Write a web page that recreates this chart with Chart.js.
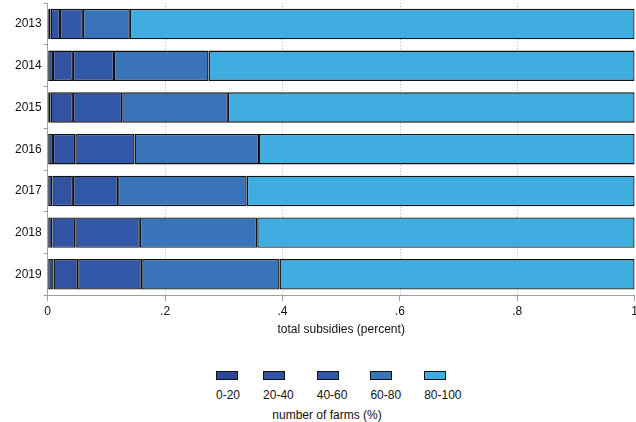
<!DOCTYPE html>
<html>
<head>
<meta charset="utf-8">
<script src="https://cdn.jsdelivr.net/npm/chart.js@4"></script>
<style>
  html, body { margin: 0; padding: 0; background: #fff; }
  body { width: 636px; height: 422px; position: relative; overflow: hidden;
         font-family: "Liberation Sans", Arial, sans-serif; color: #111; }
  #wrap { position: absolute; left: 0; top: -6px; width: 641px; height: 346px; }
  #legend { position: absolute; left: 216px; top: 371px; display: flex; }
  .item { display: flex; flex-direction: column; align-items: flex-start; margin-right: 23px; }
  .swatch { width: 20px; height: 7px; border: 1px solid #111; }
  .lbl { font-size: 12px; margin-top: 9px; line-height: 12px; }
  #legendTitle { position: absolute; left: 0; width: 654px; top: 409px; line-height: 13px; text-align: center; font-size: 12px; }
</style>
</head>
<body>
<div id="wrap"><canvas id="subsidyChart"></canvas></div>
<div id="legend"></div>
<div id="legendTitle">number of farms (%)</div>
<script>
const years = ["2013", "2014", "2015", "2016", "2017", "2018", "2019"];
const groupLabels = ["0-20", "20-40", "40-60", "60-80", "80-100"];
const groupColors = ["#2b4796", "#3153a2", "#3358a7", "#3a74b8", "#40ade0"];

// share of total subsidies received by each farm group
const share0_20 = [0.005, 0.009, 0.005, 0.009, 0.008, 0.008, 0.010];
const share20_40 = [0.016, 0.034, 0.038, 0.038, 0.035, 0.039, 0.042];
const share40_60 = [0.039, 0.070, 0.084, 0.101, 0.077, 0.110, 0.109];
const share60_80 = [0.080, 0.161, 0.180, 0.212, 0.219, 0.200, 0.234];
const share80_100 = [0.860, 0.726, 0.693, 0.640, 0.661, 0.643, 0.605];

const xTicks = [0, 0.2, 0.4, 0.6, 0.8, 1];

const shares = [share0_20, share20_40, share40_60, share60_80, share80_100];

// dotted vertical grid lines behind the bars
const dottedGrid = {
  id: "dottedGrid",
  beforeDatasetsDraw(chart) {
    const ctx = chart.ctx;
    const area = chart.chartArea;
    const x = chart.scales.x;
    ctx.save();
    ctx.strokeStyle = "#b8b8b8";
    ctx.lineWidth = 1;
    ctx.setLineDash([1, 2]);
    xTicks.forEach(function (v) {
      if (v <= 0 || v >= 1) return;
      const px = Math.round(x.getPixelForValue(v)) + 0.5;
      ctx.beginPath();
      ctx.moveTo(px, area.top);
      ctx.lineTo(px, area.bottom);
      ctx.stroke();
    });
    ctx.restore();
  },
};

const datasets = groupLabels.map(function (label, i) {
  return {
    label: label,
    data: shares[i],
    backgroundColor: groupColors[i],
    borderColor: "#121212",
    borderWidth: 1.4,
    borderSkipped: false,
    barPercentage: 0.73,
    categoryPercentage: 1,
  };
});

const ctx = document.getElementById("subsidyChart").getContext("2d");
const myChart = new Chart(ctx, {
  type: "bar",
  data: { labels: years, datasets: datasets },
  options: {
    indexAxis: "y",
    responsive: true,
    maintainAspectRatio: false,
    animation: false,
    layout: { padding: { left: 13, right: 0, top: 2, bottom: 3 } },
    plugins: {
      legend: { display: false },
      tooltip: { enabled: false },
    },
    scales: {
      x: {
        stacked: true,
        min: 0,
        max: 1,
        afterBuildTicks(scale) {
          scale.ticks = xTicks.map((v) => ({ value: v }));
        },
        ticks: {
          color: "#111",
          font: { family: "Liberation Sans", size: 12 },
          padding: 3,
          maxRotation: 0,
          callback: function (value) {
            if (value === 0 || value === 1) return String(value);
            return String(value).replace(/^0/, "");
          },
        },
        grid: { drawOnChartArea: false, drawTicks: true, tickLength: 6, color: "#a0a0a0" },
        border: { color: "#a0a0a0", width: 1 },
        title: {
          display: true,
          text: "total subsidies (percent)",
          color: "#111",
          font: { family: "Liberation Sans", size: 12 },
          padding: { top: 1, bottom: 0 },
        },
      },
      y: {
        stacked: true,
        ticks: {
          color: "#111",
          font: { family: "Liberation Sans", size: 12 },
          padding: 2,
        },
        grid: { drawOnChartArea: false, drawTicks: true, tickLength: 4, color: "#a0a0a0" },
        border: { color: "#a0a0a0", width: 1 },
      },
    },
  },
  plugins: [dottedGrid],
});

// legend: swatch above its label, one column per group
const legendEl = document.getElementById("legend");
groupLabels.forEach(function (label, i) {
  const item = document.createElement("div");
  item.className = "item";
  const sw = document.createElement("div");
  sw.className = "swatch";
  sw.style.background = groupColors[i];
  const txt = document.createElement("div");
  txt.className = "lbl";
  txt.textContent = label;
  item.appendChild(sw);
  item.appendChild(txt);
  legendEl.appendChild(item);
});
</script>
</body>
</html>
